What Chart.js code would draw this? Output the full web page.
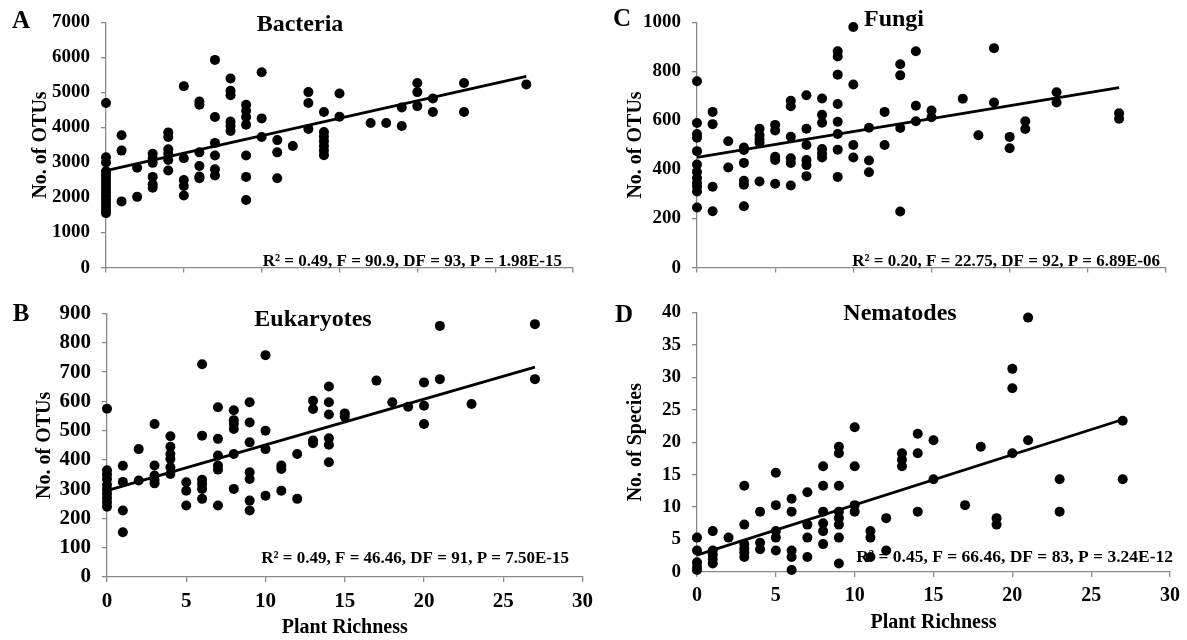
<!DOCTYPE html>
<html><head><meta charset="utf-8">
<script src="https://cdn.jsdelivr.net/npm/chart.js@4.4.1/dist/chart.umd.min.js"></script>
<style>
html,body{margin:0;padding:0;background:#fff;width:1187px;height:640px;overflow:hidden}
.p{position:absolute}
</style></head><body>
<canvas id="cA" class="p" width="590" height="290" style="left:0;top:0"></canvas>
<canvas id="cC" class="p" width="597" height="290" style="left:590px;top:0"></canvas>
<canvas id="cB" class="p" width="600" height="350" style="left:0;top:290px"></canvas>
<canvas id="cD" class="p" width="597" height="350" style="left:590px;top:290px"></canvas>
<script>
// ---- data ----
const richness = [0,1,2,3,4,5,6,7,8,9,10,11,12,13,14,15,17,18,19,20,21,23,27];
const xTicks = [0,5,10,15,20,25,30];
const fitX = [0, 27];

const bacteriaOTUs = [
  [4700,3150,3000,2750,2650,2550,2450,2350,2250,2150,2050,1950,1850,1750,1650,1550],
  [3780,3340,1890],
  [2850,2020],
  [3250,3120,2990,2590,2380,2280],
  [3860,3730,3380,3250,3070,2770],
  [5180,3120,2500,2330,2060],
  [4740,4650,3290,2900,2600,2550],
  [5930,4300,3560,3200,2810,2630],
  [5400,5050,4920,4170,4040,3900],
  [4650,4480,4300,4080,3200,2590,1930],
  [5575,4260,3730],
  [3640,3290,2550],
  [3470],
  [5010,4700,3960],
  [4440,3870,3740,3610,3470,3340,3210],
  [4970,4310],
  [4130],
  [4130],
  [4570,4040],
  [5270,5010,4610],
  [4830,4440],
  [5270,4440],
  [5230]
];
const bacteriaFit = [2770, 5460];

const eukaryoteOTUs = [
  [575,365,350,335,315,300,285,270,255,240],
  [380,325,227,153],
  [437,330],
  [523,381,347,332,320],
  [481,445,420,403,375,352],
  [324,295,244],
  [727,483,332,318,301,267],
  [580,472,415,381,367,244],
  [570,536,523,506,420,301],
  [597,528,460,358,335,261,227],
  [758,500,437,278],
  [381,369,295],
  [420,267],
  [602,574,466,457],
  [651,597,555,474,452,392],
  [559,548],
  [671],
  [597],
  [582],
  [665,585,523],
  [858,676],
  [591],
  [864,676]
];
const eukaryoteFit = [295, 717];

const fungiOTUs = [
  [760,590,545,530,475,420,390,365,345,330,310,245],
  [635,585,330,230],
  [515,408],
  [490,480,427,354,338,250],
  [566,540,522,509,351],
  [582,559,452,439,342],
  [680,658,534,446,427,335],
  [703,566,500,439,418,373],
  [690,623,591,484,465,449],
  [882,861,787,667,595,545,481,370],
  [981,747,500,449],
  [570,437,389],
  [635,500],
  [829,784,569,229],
  [882,660,597],
  [641,613],
  [689],
  [540],
  [895,673],
  [533,487],
  [597,565],
  [715,673],
  [629,607]
];
const fungiFit = [450, 734];

const nematodeSpecies = [
  [5.3,3.3,1.5,0.8,0.3],
  [6.3,3.3,2.7,2.0,1.3],
  [5.3],
  [13.3,7.3,4.3,3.6,3.0,2.3],
  [9.3,4.5,3.5],
  [15.3,10.3,6.3,5.3,3.3],
  [11.3,9.3,3.3,2.3,0.3],
  [12.3,7.3,5.3,2.3],
  [16.3,13.3,9.3,7.5,6.3,4.3],
  [19.3,18.3,13.3,9.3,8.3,7.3,5.3,1.3],
  [22.3,16.3,10.3,9.3],
  [6.3,5.3,2.3],
  [8.3,3.3],
  [18.3,17.3,16.3],
  [21.3,18.3,9.3],
  [20.3,14.3],
  [10.3],
  [19.3],
  [8.3,7.3],
  [31.3,28.3,18.3],
  [39.2,20.3],
  [14.3,9.3],
  [23.3,14.3]
];
const nematodeFit = [2.6, 23.5];

// ---- rendering ----
const FAM = '"Liberation Serif","Times New Roman",serif';
const AXIS = '#8a8a8a';

const overlayPlugin = {
  id: 'overlay',
  beforeDatasetsDraw(chart, args, o) {
    const ctx = chart.ctx;
    ctx.save();
    ctx.fillStyle = '#000';
    ctx.font = 'bold ' + o.statSize + 'px ' + FAM;
    ctx.textAlign = 'right';
    ctx.textBaseline = 'middle';
    ctx.fillText(o.stats, o.statPos[0] - o.off[0], o.statPos[1] - o.off[1]);
    ctx.restore();
  },
  afterDraw(chart, args, o) {
    const ctx = chart.ctx;
    ctx.save();
    ctx.fillStyle = '#000';
    ctx.textBaseline = 'middle';
    ctx.textAlign = 'center';
    ctx.font = 'bold 25px ' + FAM;
    ctx.fillText(o.letter, o.letterPos[0] - o.off[0], o.letterPos[1] - o.off[1]);
    ctx.font = 'bold 24px ' + FAM;
    ctx.fillText(o.title, o.titlePos[0] - o.off[0], o.titlePos[1] - o.off[1]);
    ctx.restore();
  }
};

function panel(id, cfg) {
  const pts = richness.flatMap((r, i) => cfg.values[i].map(v => ({x: r, y: v})));
  const fit = fitX.map((x, i) => ({x: x, y: cfg.fit[i]}));
  new Chart(document.getElementById(id), {
    type: 'scatter',
    data: {
      datasets: [
        {data: pts, pointRadius: 5, pointHoverRadius: 5, backgroundColor: '#000', borderWidth: 0, clip: false},
        {data: fit, showLine: true, borderColor: '#000', borderWidth: 2.8, pointRadius: 0, fill: false, clip: false}
      ]
    },
    options: {
      responsive: false, animation: false, events: [],
      layout: {padding: {top: cfg.padTop, right: cfg.padRight, left: 0, bottom: 0}},
      plugins: {legend: {display: false}, tooltip: {enabled: false}, overlay: cfg.overlay},
      scales: {
        x: {
          type: 'linear', min: 0, max: 30,
          afterBuildTicks(s) { s.ticks = xTicks.map(v => ({value: v})); },
          ticks: {display: cfg.xLabels, color: '#000', padding: 7, callback: v => String(v),
                  font: {family: FAM, weight: 'bold', size: cfg.xFont}},
          grid: {drawOnChartArea: false, tickLength: 5, color: AXIS, lineWidth: 1.3},
          border: {color: AXIS, width: 1.3},
          title: {display: cfg.xLabels, text: 'Plant Richness', color: '#000',
                  font: {family: FAM, weight: 'bold', size: 20}, padding: {top: 0, bottom: cfg.xTitlePad}},
          afterFit(s) { s.height = cfg.xHeight; }
        },
        y: {
          type: 'linear', min: 0, max: cfg.yMax,
          afterBuildTicks(s) { s.ticks = cfg.yTicks.map(v => ({value: v})); },
          ticks: {color: '#000', padding: 11, callback: v => String(v),
                  font: {family: FAM, weight: 'bold', size: cfg.yFont}},
          grid: {drawOnChartArea: false, tickLength: 5, color: AXIS, lineWidth: 1.3},
          border: {color: AXIS, width: 1.3},
          title: {display: true, text: cfg.yTitle, color: '#000',
                  font: {family: FAM, weight: 'bold', size: 20}, padding: {top: cfg.yTitlePad, bottom: 0}},
          afterFit(s) { s.width = cfg.yWidth; }
        }
      }
    },
    plugins: [overlayPlugin]
  });
}

panel('cA', {
  values: bacteriaOTUs, fit: bacteriaFit, yMax: 7000, yTicks: [0,1000,2000,3000,4000,5000,6000,7000],
  padTop: 16, padRight: 17, yWidth: 106, xHeight: 8, xLabels: false, xFont: 20, xTitlePad: 0,
  yFont: 19, yTitle: 'No. of OTUs', yTitlePad: 29,
  overlay: {off: [0, 0], letter: 'A', letterPos: [21, 22], title: 'Bacteria', titlePos: [300, 25],
            stats: 'R\u00B2 = 0.49, F = 90.9, DF = 93, P = 1.98E-15', statPos: [562, 262], statSize: 17}
});
panel('cC', {
  values: fungiOTUs, fit: fungiFit, yMax: 1000, yTicks: [0,200,400,600,800,1000],
  padTop: 15, padRight: 21, yWidth: 107, xHeight: 12, xLabels: false, xFont: 20, xTitlePad: 0,
  yFont: 19, yTitle: 'No. of OTUs', yTitlePad: 34,
  overlay: {off: [590, 0], letter: 'C', letterPos: [622, 20], title: 'Fungi', titlePos: [894, 20],
            stats: 'R\u00B2 = 0.20, F = 22.75, DF = 92, P = 6.89E-06', statPos: [1160, 262], statSize: 17}
});
panel('cB', {
  values: eukaryoteOTUs, fit: eukaryoteFit, yMax: 900, yTicks: [0,100,200,300,400,500,600,700,800,900],
  padTop: 23, padRight: 15, yWidth: 107, xHeight: 63, xLabels: true, xFont: 21, xTitlePad: 0,
  yFont: 21, yTitle: 'No. of OTUs', yTitlePad: 33,
  overlay: {off: [0, 290], letter: 'B', letterPos: [21, 315], title: 'Eukaryotes', titlePos: [313, 320],
            stats: 'R\u00B2 = 0.49, F = 46.46, DF = 91, P = 7.50E-15', statPos: [569, 559], statSize: 17}
});
panel('cD', {
  values: nematodeSpecies, fit: nematodeFit, yMax: 40, yTicks: [0,5,10,15,20,25,30,35,40],
  padTop: 17, padRight: 15, yWidth: 107, xHeight: 68, xLabels: true, xFont: 20, xTitlePad: 5,
  yFont: 19, yTitle: 'No. of Species', yTitlePad: 34,
  overlay: {off: [590, 290], letter: 'D', letterPos: [624, 316], title: 'Nematodes', titlePos: [900, 314],
            stats: 'R\u00B2 = 0.45, F = 66.46, DF = 83, P = 3.24E-12', statPos: [1173, 557], statSize: 17.5}
});
</script>
</body></html>
